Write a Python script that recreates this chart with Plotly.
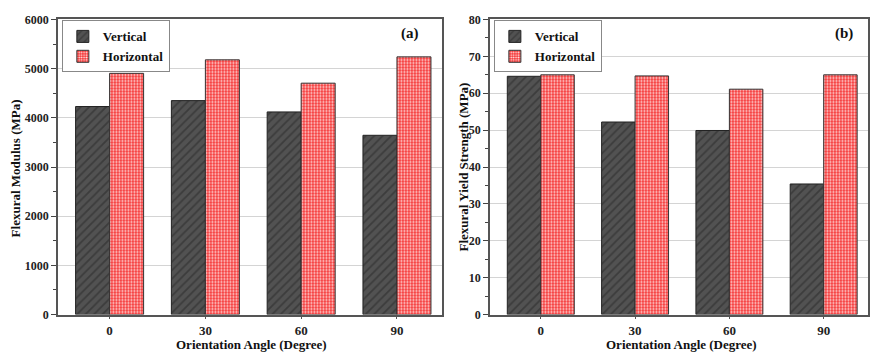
import plotly.graph_objects as go

categories = ["0", "30", "60", "90"]
modulus_vertical = [4230, 4350, 4120, 3645]
modulus_horizontal = [4905, 5180, 4705, 5240]
strength_vertical = [64.6, 52.2, 49.9, 35.4]
strength_horizontal = [65.0, 64.7, 61.1, 65.0]
modulus_ticks = [0, 1000, 2000, 3000, 4000, 5000, 6000]
strength_ticks = [0, 10, 20, 30, 40, 50, 60, 70, 80]

SERIF = "Liberation Serif"
BLACK_FILL = "#525252"
RED_FILL = "#f53434"

def vbar(y, xa, ya, legend, show):
    return go.Bar(
        x=categories, y=y, name="Vertical", xaxis=xa, yaxis=ya, legend=legend,
        showlegend=show,
        marker=dict(color=BLACK_FILL, line=dict(color="#222222", width=1),
                    pattern=dict(shape="/", bgcolor=BLACK_FILL, fgcolor="#3c3c3c",
                                 size=6, solidity=0.3, fillmode="replace")),
    )

def hbar(y, xa, ya, legend, show):
    return go.Bar(
        x=categories, y=y, name="Horizontal", xaxis=xa, yaxis=ya, legend=legend,
        showlegend=show,
        marker=dict(color=RED_FILL, line=dict(color="#333333", width=1),
                    pattern=dict(shape=".", bgcolor=RED_FILL, fgcolor="#ffe6e6",
                                 size=3, solidity=0.4, fillmode="replace")),
    )

fig = go.Figure()
fig.add_trace(vbar(modulus_vertical, "x", "y", "legend", True))
fig.add_trace(hbar(modulus_horizontal, "x", "y", "legend", True))
fig.add_trace(vbar(strength_vertical, "x2", "y2", "legend2", True))
fig.add_trace(hbar(strength_horizontal, "x2", "y2", "legend2", True))

H = 359.0
W = 870.0
ydom = [(H - 320) / H, (H - 13) / H]

tickfont_y = dict(family=SERIF, size=12, color="#222222", weight="bold")
tickfont_x = dict(family=SERIF, size=13, color="#222222", weight="bold")

def xaxis(domain, anchor):
    return dict(domain=domain, anchor=anchor, type="category",
                range=[-0.54, 3.47], showline=True, linecolor="#555555", linewidth=1.5,
                mirror=True, ticks="outside", ticklen=3, tickcolor="#555555",
                tickfont=tickfont_x, showgrid=False, zeroline=False)

def yaxis(anchor, rng, ticks, minor_dtick):
    return dict(domain=ydom, anchor=anchor, range=rng, tickvals=ticks,
                showline=True, linecolor="#555555", linewidth=1.5, mirror=True,
                ticks="outside", ticklen=5, tickcolor="#444444", tickfont=tickfont_y,
                showgrid=True, gridcolor="#d4d4d4", gridwidth=1, zeroline=False,
                minor=dict(dtick=minor_dtick, ticks="outside", ticklen=3,
                           tickcolor="#444444", showgrid=False))

fig.update_layout(
    width=870, height=359,
    margin=dict(l=0, r=0, t=0, b=0),
    paper_bgcolor="white", plot_bgcolor="white",
    barmode="group", bargap=0.29, bargroupgap=0,
    xaxis=xaxis([58 / W, 443 / W], "y"),
    yaxis=yaxis("x", [0, 6000], modulus_ticks, 500),
    xaxis2=xaxis([491 / W, 1.0], "y2"),
    yaxis2=yaxis("x2", [0, 80], strength_ticks, 5),
    legend=dict(x=62 / W, y=(H - 14) / H, xanchor="left", yanchor="top",
                bgcolor="white", bordercolor="#888888", borderwidth=1,
                font=dict(family=SERIF, size=13, color="#111111", weight="bold"),
                tracegroupgap=0),
    legend2=dict(x=495 / W, y=(H - 14) / H, xanchor="left", yanchor="top",
                 bgcolor="white", bordercolor="#888888", borderwidth=1,
                 font=dict(family=SERIF, size=13, color="#111111", weight="bold"),
                 tracegroupgap=0),
    font=dict(family=SERIF),
)

title_font = dict(family=SERIF, size=13, color="#111111", weight="bold")
fig.add_annotation(text="Flexural Modulus (MPa)", x=15 / W, y=(H - 168) / H,
                   xref="paper", yref="paper", textangle=-90, showarrow=False,
                   font=title_font, xanchor="center", yanchor="middle")
fig.add_annotation(text="Flexural Yield Strength (MPa)", x=465 / W, y=(H - 166) / H,
                   xref="paper", yref="paper", textangle=-90, showarrow=False,
                   font=title_font, xanchor="center", yanchor="middle")
fig.add_annotation(text="Orientation Angle (Degree)", x=252 / W, y=(H - 351) / H,
                   xref="paper", yref="paper", showarrow=False, font=title_font,
                   xanchor="center", yanchor="middle")
fig.add_annotation(text="Orientation Angle (Degree)", x=683 / W, y=(H - 351) / H,
                   xref="paper", yref="paper", showarrow=False, font=title_font,
                   xanchor="center", yanchor="middle")
label_font = dict(family=SERIF, size=15, color="#111111", weight="bold")
fig.add_annotation(text="(a)", x=411 / W, y=(H - 28) / H, xref="paper", yref="paper",
                   showarrow=False, font=label_font, xanchor="center", yanchor="middle")
fig.add_annotation(text="(b)", x=846 / W, y=(H - 28) / H, xref="paper", yref="paper",
                   showarrow=False, font=label_font, xanchor="center", yanchor="middle")

fig.write_html("out.html")
